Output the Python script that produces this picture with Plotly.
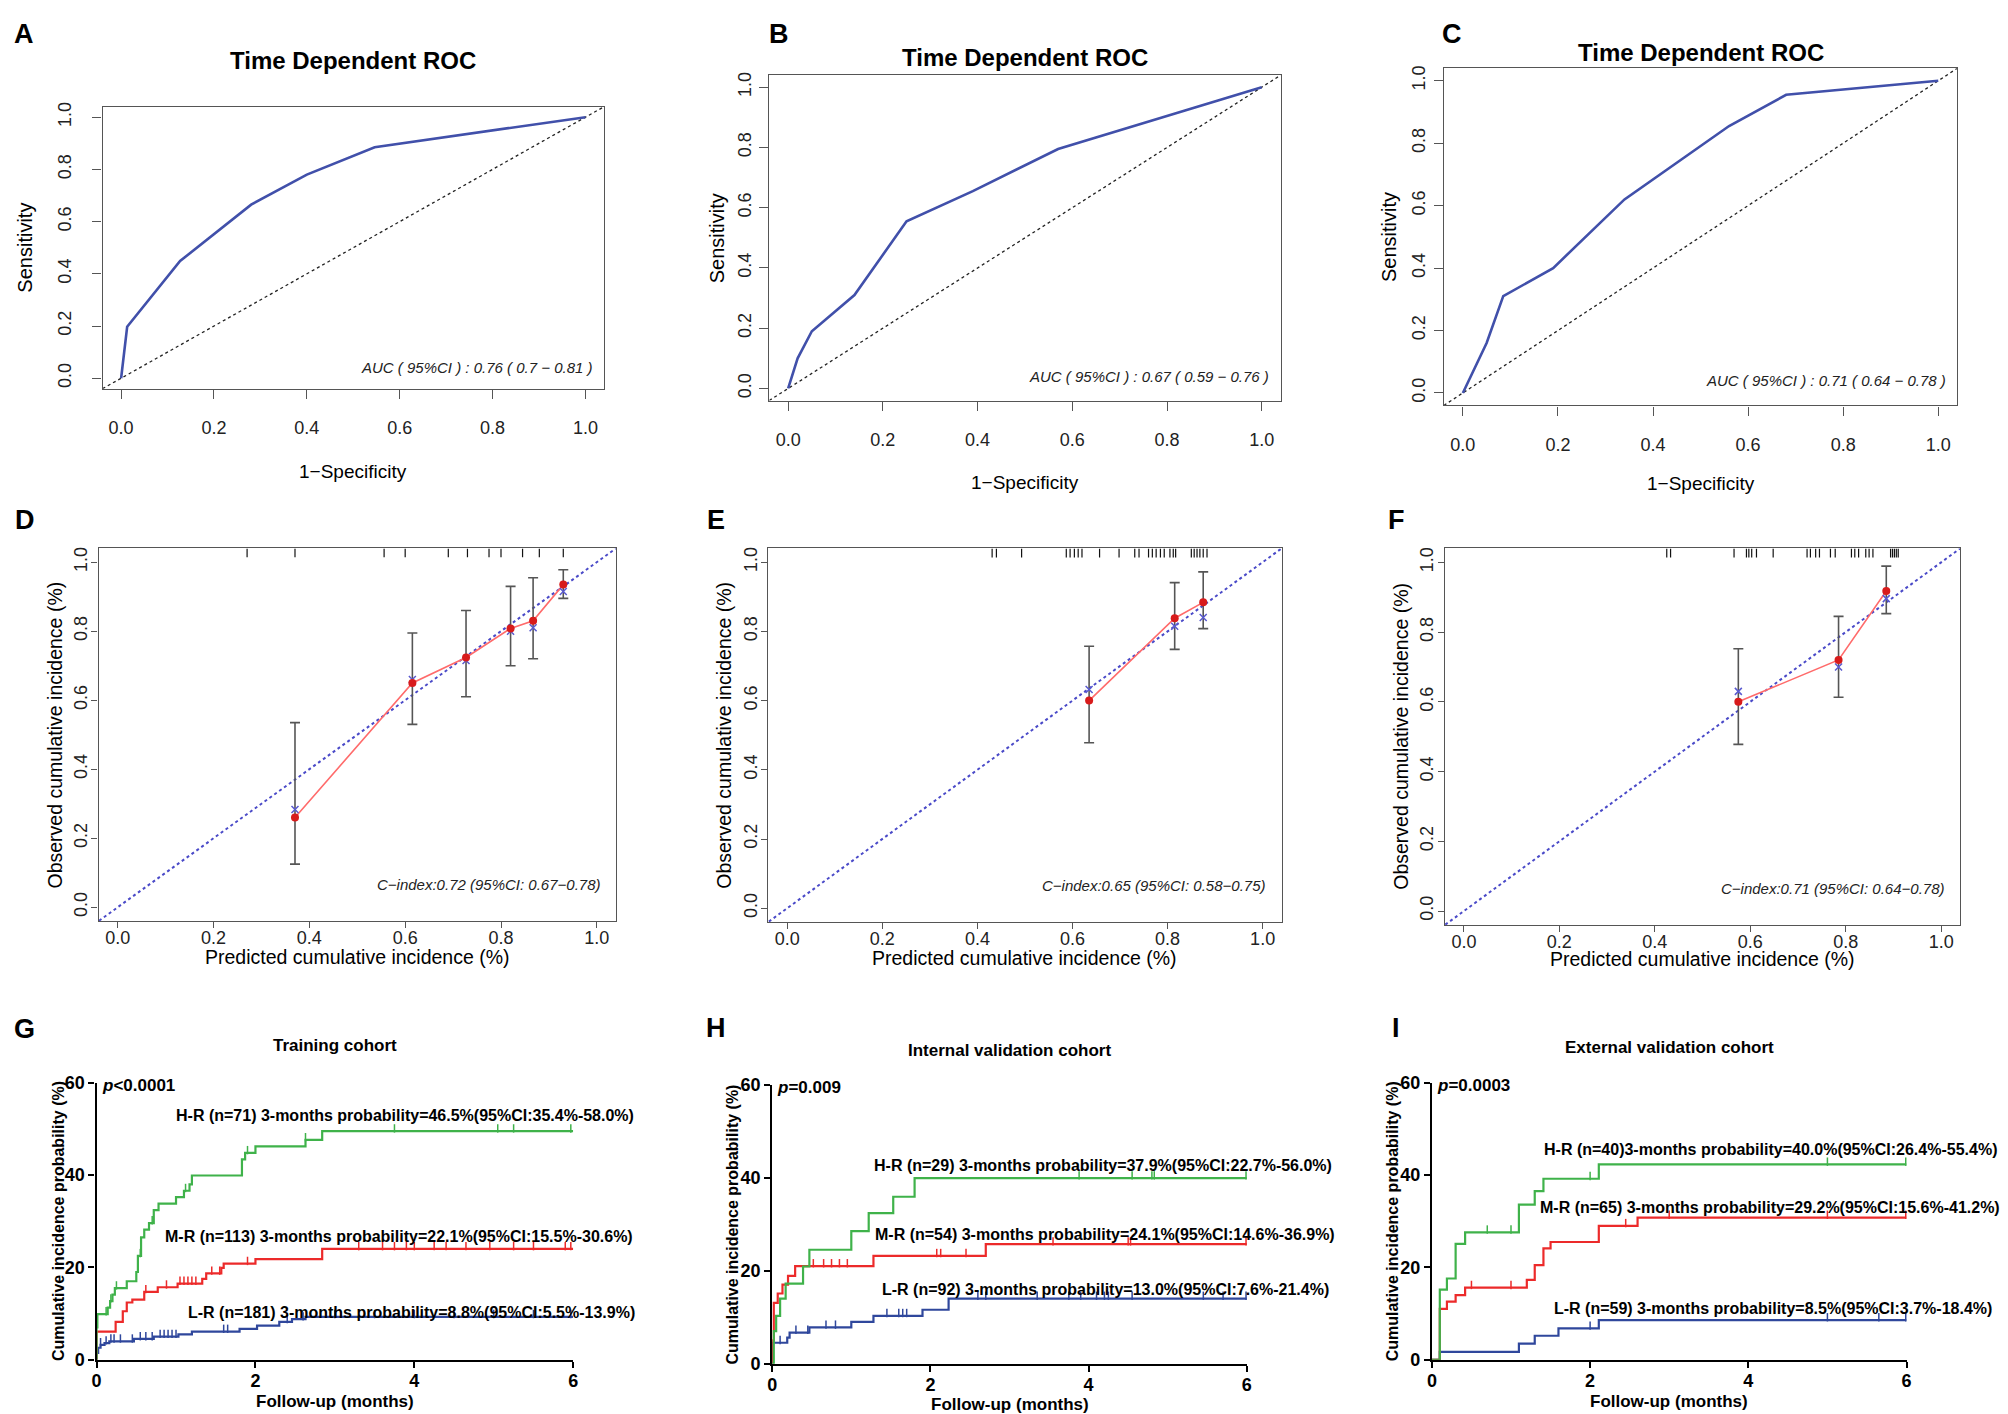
import plotly.graph_objects as go
import numpy as np

# ---------------- ROC curves (1-specificity, sensitivity) ----------------
roc_fpr_a = [0.0, 0.013, 0.127, 0.28, 0.40, 0.546, 1.0]
roc_tpr_a = [0.0, 0.197, 0.449, 0.665, 0.78, 0.885, 1.0]
roc_fpr_b = [0.0, 0.02, 0.05, 0.14, 0.25, 0.39, 0.57, 1.0]
roc_tpr_b = [0.0, 0.10, 0.19, 0.31, 0.555, 0.655, 0.795, 1.0]
roc_fpr_c = [0.0, 0.05, 0.085, 0.19, 0.34, 0.56, 0.68, 1.0]
roc_tpr_c = [0.0, 0.16, 0.31, 0.40, 0.62, 0.855, 0.955, 1.0]
auc_labels = ["AUC ( 95%CI ) : 0.76 ( 0.7 − 0.81 )",
              "AUC ( 95%CI ) : 0.67 ( 0.59 − 0.76 )",
              "AUC ( 95%CI ) : 0.71 ( 0.64 − 0.78 )"]

# ---------------- calibration curves ----------------
cal_pred_d = [0.37, 0.615, 0.727, 0.82, 0.867, 0.93]
cal_obs_d = [0.26, 0.65, 0.724, 0.808, 0.83, 0.935]
cal_corr_d = [0.283, 0.66, 0.715, 0.80, 0.81, 0.915]
cal_low_d = [0.125, 0.53, 0.61, 0.70, 0.72, 0.895]
cal_up_d = [0.535, 0.795, 0.86, 0.93, 0.955, 0.978]
rug_d = [0.27, 0.37, 0.556, 0.60, 0.69, 0.73, 0.775, 0.80, 0.845, 0.88, 0.93]

cal_pred_e = [0.635, 0.815, 0.875]
cal_obs_e = [0.60, 0.838, 0.884]
cal_corr_e = [0.632, 0.815, 0.84]
cal_low_e = [0.478, 0.748, 0.808]
cal_up_e = [0.757, 0.941, 0.972]
rug_e = [0.431, 0.44, 0.493, 0.587, 0.595, 0.604, 0.612, 0.620, 0.657, 0.698,
         0.731, 0.740, 0.760, 0.768, 0.776, 0.785, 0.793, 0.805, 0.812, 0.817,
         0.850, 0.856, 0.862, 0.868, 0.875, 0.883]

cal_pred_f = [0.575, 0.785, 0.885]
cal_obs_f = [0.60, 0.72, 0.918]
cal_corr_f = [0.63, 0.70, 0.896]
cal_low_f = [0.478, 0.613, 0.853]
cal_up_f = [0.752, 0.845, 0.989]
rug_f = [0.425, 0.433, 0.566, 0.592, 0.597, 0.603, 0.613, 0.648, 0.719, 0.726,
         0.737, 0.745, 0.768, 0.778, 0.812, 0.819, 0.827, 0.842, 0.849, 0.857,
         0.894, 0.898, 0.902, 0.906, 0.910]
cindex_labels = ["C−index:0.72 (95%CI: 0.67−0.78)",
                 "C−index:0.65 (95%CI: 0.58−0.75)",
                 "C−index:0.71 (95%CI: 0.64−0.78)"]

# ---------------- cumulative incidence (months, %) ----------------
g_hr_t = [0.0, 0.01, 0.14, 0.17, 0.20, 0.23, 0.38, 0.50, 0.52, 0.56, 0.60, 0.66, 0.72, 0.78, 1.00, 1.10, 1.17, 1.20, 1.83, 1.87, 2.00, 2.63, 2.84]
g_hr_y = [7.0, 9.9, 11.3, 12.7, 14.1, 15.5, 17.0, 19.0, 22.5, 26.5, 28.2, 29.6, 32.4, 33.8, 35.2, 36.6, 38.0, 39.9, 43.4, 44.8, 46.2, 47.6, 49.5]
g_mr_t = [0.0, 0.24, 0.33, 0.38, 0.45, 0.60, 0.77, 1.02, 1.33, 1.38, 1.57, 1.60, 2.00, 2.84]
g_mr_y = [6.1, 8.2, 10.5, 12.4, 13.0, 14.7, 15.7, 16.5, 17.5, 18.7, 19.9, 20.8, 21.8, 24.0]
g_lr_t = [0.0, 0.02, 0.05, 0.10, 0.16, 0.47, 0.72, 1.03, 1.20, 1.80, 2.02, 2.30, 2.46, 2.63]
g_lr_y = [1.5, 2.6, 3.2, 3.6, 4.0, 4.5, 5.0, 5.5, 6.1, 6.7, 7.4, 8.2, 8.8, 9.3]
g_hr_cens = [0.12, 0.18, 0.25, 0.55, 0.70, 1.12, 1.90, 2.63, 3.75, 5.05, 5.25, 5.97]
g_mr_cens = [0.62, 0.88, 1.05, 1.10, 1.15, 1.20, 1.25, 1.45, 1.55, 1.90, 3.30, 3.60, 3.75, 3.90,
             4.00, 4.25, 4.40, 4.65, 4.95, 5.25, 5.50, 5.90, 5.97]
g_lr_cens = [0.05, 0.12, 0.18, 0.22, 0.30, 0.45, 0.55, 0.62, 0.70, 0.80, 0.85, 0.90, 0.95, 1.00,
             1.60, 1.65, 2.40, 2.60, 3.00, 3.50, 4.00, 4.50, 5.00, 5.50, 5.97]

h_hr_t = [0.02, 0.05, 0.10, 0.17, 0.39, 0.47, 1.00, 1.22, 1.53, 1.80]
h_hr_y = [7.0, 10.3, 14.0, 17.2, 20.9, 24.5, 28.5, 32.4, 35.9, 39.9]
h_mr_t = [0.0, 0.02, 0.07, 0.13, 0.20, 0.29, 1.28, 2.70]
h_mr_y = [5.0, 13.1, 15.1, 17.0, 18.9, 21.0, 23.2, 25.7]
h_lr_t = [0.0, 0.19, 0.22, 0.47, 1.00, 1.28, 1.90, 2.23]
h_lr_y = [4.5, 5.6, 6.7, 7.8, 9.0, 10.3, 11.6, 14.0]
h_hr_cens = [3.88, 4.55, 4.80, 4.83, 5.99]
h_mr_cens = [0.52, 0.65, 0.75, 0.85, 0.95, 2.08, 2.13, 2.45, 3.55, 4.50, 4.53, 5.99]
h_lr_cens = [0.10, 0.30, 0.45, 0.68, 0.80, 1.45, 1.60, 1.65, 1.70, 2.60, 2.70, 3.35, 3.75,
             3.90, 4.10, 4.20, 4.25, 4.55, 5.45, 5.70, 5.99]

i_hr_t = [0.10, 0.19, 0.30, 0.42, 1.10, 1.30, 1.41, 2.11]
i_hr_y = [15.2, 17.6, 25.1, 27.6, 33.6, 36.5, 39.2, 42.3]
i_mr_t = [0.10, 0.19, 0.30, 0.42, 1.20, 1.30, 1.41, 1.50, 2.11, 2.60]
i_mr_y = [11.0, 12.6, 14.0, 15.6, 17.3, 20.5, 24.1, 25.5, 29.0, 30.8]
i_lr_t = [0.10, 1.10, 1.30, 1.60, 2.11]
i_lr_y = [1.7, 3.5, 5.2, 6.8, 8.6]
i_hr_cens = [0.70, 1.00, 2.00, 5.00, 5.99]
i_mr_cens = [0.50, 1.00, 2.45, 3.00, 5.00, 5.99]
i_lr_cens = [2.00, 5.00, 5.65, 5.99]

km_titles = ["Training cohort", "Internal validation cohort", "External validation cohort"]
km_pvalues = ["<i>p</i>&lt;0.0001", "<i>p</i>=0.009", "<i>p</i>=0.0003"]
g_labels = ["H-R (n=71) 3-months probability=46.5%(95%CI:35.4%-58.0%)",
            "M-R (n=113) 3-months probability=22.1%(95%CI:15.5%-30.6%)",
            "L-R (n=181) 3-months probability=8.8%(95%CI:5.5%-13.9%)"]
h_labels = ["H-R (n=29) 3-months probability=37.9%(95%CI:22.7%-56.0%)",
            "M-R (n=54) 3-months probability=24.1%(95%CI:14.6%-36.9%)",
            "L-R (n=92) 3-months probability=13.0%(95%CI:7.6%-21.4%)"]
i_labels = ["H-R (n=40)3-months probability=40.0%(95%CI:26.4%-55.4%)",
            "M-R (n=65) 3-months probability=29.2%(95%CI:15.6%-41.2%)",
            "L-R (n=59) 3-months probability=8.5%(95%CI:3.7%-18.4%)"]
# where each label starts (months, %)
g_label_pos = [(0.97, 52.9), (0.83, 26.7), (1.12, 10.2)]
h_label_pos = [(1.26, 42.7), (1.27, 27.8), (1.36, 15.9)]
i_label_pos = [(1.39, 45.6), (1.34, 32.9), (1.52, 11.0)]

W, H = 2008, 1414
ARIAL = "Liberation Sans, Arial, sans-serif"
GREEN, RED, BLUE = "#3fb24a", "#ec2a2a", "#2f479c"

# plot boxes in pixels: left, right, top, bottom
boxes = {
    1: (90, 594, 90, 376),
    2: (760, 1274, 58, 388),
    3: (1438, 1954, 51, 393),
    4: (86, 606, 538, 916),
    5: (759, 1275, 538, 917),
    6: (1439, 1957, 538, 920),
    7: (84, 563, 1080, 1361),
    8: (763, 1240, 1082, 1365),
    9: (1426, 1903, 1080, 1361),
}

fig = go.Figure()
annotations = []


def sfx(i):
    return "" if i == 1 else str(i)


def paper(px, py):
    return px / W, 1 - py / H


def note(text, px, py, size, weight="normal", angle=0):
    x, y = paper(px, py)
    annotations.append(dict(text=text, x=x, y=y, xref="paper", yref="paper", showarrow=False,
                            xanchor="center", yanchor="middle", textangle=angle,
                            font=dict(family=ARIAL, size=size, color="black", weight=weight)))


def r_axes(i, ticklen, sx, sy):
    l, r, t, b = boxes[i]
    common = dict(range=[-0.04, 1.04], tickvals=[0, 0.2, 0.4, 0.6, 0.8, 1.0], tickformat=".1f",
                  showline=True, mirror=True, linecolor="#555", linewidth=1.4,
                  ticks="outside", ticklen=ticklen, tickwidth=1.3, tickcolor="#555",
                  showgrid=False, zeroline=False,
                  tickfont=dict(family=ARIAL, size=18, color="#222"))
    fig.update_layout(**{
        "xaxis" + sfx(i): dict(domain=[l / W, r / W], anchor="y" + sfx(i), ticklabelstandoff=sx, **common),
        "yaxis" + sfx(i): dict(domain=[1 - b / H, 1 - t / H], anchor="x" + sfx(i), tickangle=-90,
                               ticklabelstandoff=sy, **common),
    })


def km_axes(i):
    l, r, t, b = boxes[i]
    common = dict(showline=True, linecolor="black", linewidth=2.2, ticks="outside", ticklen=6,
                  tickwidth=2, tickcolor="black", showgrid=False, zeroline=False,
                  tickfont=dict(family=ARIAL, size=18, color="black", weight="bold"))
    fig.update_layout(**{
        "xaxis" + sfx(i): dict(domain=[l / W, r / W], anchor="y" + sfx(i), range=[0, 6],
                               tickvals=[0, 2, 4, 6], ticklabelstandoff=-2, **common),
        "yaxis" + sfx(i): dict(domain=[1 - b / H, 1 - t / H], anchor="x" + sfx(i), range=[0, 60],
                               tickvals=[0, 20, 40, 60], **common),
    })


# ---------------- row 1: ROC ----------------
roc_data = [(roc_fpr_a, roc_tpr_a), (roc_fpr_b, roc_tpr_b), (roc_fpr_c, roc_tpr_c)]
for k, (fpr, tpr) in enumerate(roc_data):
    i = k + 1
    r_axes(i, 9, 14, 14 if i == 1 else 1)
    ax = dict(xaxis="x" + sfx(i), yaxis="y" + sfx(i), showlegend=False, hoverinfo="skip")
    fig.add_trace(go.Scatter(x=[-0.04, 1.04], y=[-0.04, 1.04], mode="lines",
                             line=dict(color="#222", width=1.3, dash="dot"), **ax))
    fig.add_trace(go.Scatter(x=fpr, y=tpr, mode="lines", line=dict(color="#4150aa", width=2.6), **ax))
    annotations.append(dict(text=auc_labels[k], x=1.02, y=0.04, xref="x" + sfx(i), yref="y" + sfx(i),
                            xanchor="right", yanchor="middle", showarrow=False,
                            font=dict(family=ARIAL, size=15, color="#222", style="italic")))

for i, ty, xt_y in zip([1, 2, 3], [43, 40, 35], [460, 471, 472]):
    l, r, t, b = boxes[i]
    note("Time Dependent ROC", (l + r) / 2, ty, 24, weight="bold")
    note("1−Specificity", (l + r) / 2, xt_y, 19)
for i, x in zip([1, 2, 3], [12, 707, 1383]):
    l, r, t, b = boxes[i]
    note("Sensitivity", x, (t + b) / 2, 20, angle=-90)

# ---------------- row 2: calibration ----------------
cal_data = [(cal_pred_d, cal_obs_d, cal_corr_d, cal_low_d, cal_up_d, rug_d),
            (cal_pred_e, cal_obs_e, cal_corr_e, cal_low_e, cal_up_e, rug_e),
            (cal_pred_f, cal_obs_f, cal_corr_f, cal_low_f, cal_up_f, rug_f)]
for k, (pred, obs, corr, low, up, rug) in enumerate(cal_data):
    i = k + 4
    r_axes(i, 6, -6, -3)
    ax = dict(xaxis="x" + sfx(i), yaxis="y" + sfx(i), showlegend=False, hoverinfo="skip")
    fig.add_trace(go.Scatter(x=[-0.1, 1.1], y=[-0.1, 1.1], mode="lines",
                             line=dict(color="#4a4ac8", width=2, dash="dot"), **ax))
    rx, ry = [], []
    for v in rug:
        rx += [v, v, None]
        ry += [1.014, 1.04, None]
    fig.add_trace(go.Scatter(x=rx, y=ry, mode="lines", line=dict(color="#111", width=1.2), **ax))
    obs_a = np.array(obs)
    fig.add_trace(go.Scatter(x=pred, y=obs, mode="markers", marker=dict(size=1, color="rgba(0,0,0,0)"),
                             error_y=dict(type="data", array=np.array(up) - obs_a,
                                          arrayminus=obs_a - np.array(low),
                                          color="#555", thickness=1.6, width=5), **ax))
    fig.add_trace(go.Scatter(x=pred, y=obs, mode="lines", line=dict(color="#ff6b6b", width=1.6), **ax))
    fig.add_trace(go.Scatter(x=pred, y=corr, mode="markers",
                             marker=dict(symbol="x-thin-open", size=7, color="#5a5ad0",
                                         line=dict(color="#5a5ad0", width=1.5)), **ax))
    fig.add_trace(go.Scatter(x=pred, y=obs, mode="markers", marker=dict(size=8, color="#d81b1b"), **ax))
    annotations.append(dict(text=cindex_labels[k], x=1.01, y=0.065, xref="x" + sfx(i), yref="y" + sfx(i),
                            xanchor="right", yanchor="middle", showarrow=False,
                            font=dict(family=ARIAL, size=15, color="#222", style="italic")))

for i, xt_y in zip([4, 5, 6], [952, 953, 955]):
    l, r, t, b = boxes[i]
    note("Predicted cumulative incidence (%)", (l + r) / 2, xt_y, 19.5)
for i, x in zip([4, 5, 6], [42, 715, 1395]):
    l, r, t, b = boxes[i]
    note("Observed cumulative incidence (%)", x, (t + b) / 2, 19.5, angle=-90)

# ---------------- row 3: cumulative incidence ----------------
def step_value(t, times, vals):
    idx = np.searchsorted(times, t, side="right") - 1
    return vals[idx] if idx >= 0 else 0.0


km_sets = [
    [(g_hr_t, g_hr_y, g_hr_cens, GREEN), (g_mr_t, g_mr_y, g_mr_cens, RED), (g_lr_t, g_lr_y, g_lr_cens, BLUE)],
    [(h_hr_t, h_hr_y, h_hr_cens, GREEN), (h_mr_t, h_mr_y, h_mr_cens, RED), (h_lr_t, h_lr_y, h_lr_cens, BLUE)],
    [(i_hr_t, i_hr_y, i_hr_cens, GREEN), (i_mr_t, i_mr_y, i_mr_cens, RED), (i_lr_t, i_lr_y, i_lr_cens, BLUE)],
]
km_labels = [(g_labels, g_label_pos), (h_labels, h_label_pos), (i_labels, i_label_pos)]

for k, curves in enumerate(km_sets):
    i = k + 7
    km_axes(i)
    ax = dict(xaxis="x" + sfx(i), yaxis="y" + sfx(i), showlegend=False, hoverinfo="skip")
    for times, vals, cens, col in curves[::-1]:
        xs = [0.0] + list(times) + [6.0]
        ys = [0.0] + list(vals) + [vals[-1]]
        fig.add_trace(go.Scatter(x=xs, y=ys, mode="lines", line=dict(color=col, width=2.2, shape="hv"), **ax))
        cy = [step_value(c, times, vals) + 0.6 for c in cens]
        fig.add_trace(go.Scatter(x=cens, y=cy, mode="markers", cliponaxis=False,
                                 marker=dict(symbol="line-ns", size=6, line=dict(color=col, width=1.5)), **ax))
    texts, pos = km_labels[k]
    for txt, (lx, ly) in zip(texts, pos):
        annotations.append(dict(text=txt, x=lx, y=ly, xref="x" + sfx(i), yref="y" + sfx(i),
                                xanchor="left", yanchor="middle", showarrow=False,
                                font=dict(family=ARIAL, size=16, color="black", weight="bold")))
    annotations.append(dict(text=km_pvalues[k], x=0.04, y=59.3, xref="x" + sfx(i), yref="y" + sfx(i),
                            xanchor="left", yanchor="middle", showarrow=False,
                            font=dict(family=ARIAL, size=17, color="black", weight="bold")))

for i, ty, xy in zip([7, 8, 9], [1042, 1047, 1044], [1403, 1406, 1403]):
    l, r, t, b = boxes[i]
    note(km_titles[i - 7], (l + r) / 2, ty, 17, weight="bold")
    note("Follow-up (months)", (l + r) / 2, xy, 17, weight="bold")
for i, x in zip([7, 8, 9], [45, 723, 1386]):
    l, r, t, b = boxes[i]
    note("Cumulative incidence probability (%)", x, (t + b) / 2, 16, weight="bold", angle=-90)

# panel letters
for letter, px, py in [("A", 11, 16), ("B", 770, 16), ("C", 1446, 16),
                       ("D", 12, 509), ("E", 707, 509), ("F", 1390, 509),
                       ("G", 12, 1026), ("H", 707, 1024), ("I", 1390, 1024)]:
    note(letter, px, py, 27, weight="bold")

fig.update_layout(width=W, height=H, autosize=False, margin=dict(l=0, r=0, t=0, b=0),
                  paper_bgcolor="white", plot_bgcolor="white", showlegend=False,
                  annotations=annotations)

fig.write_html("out.html")
